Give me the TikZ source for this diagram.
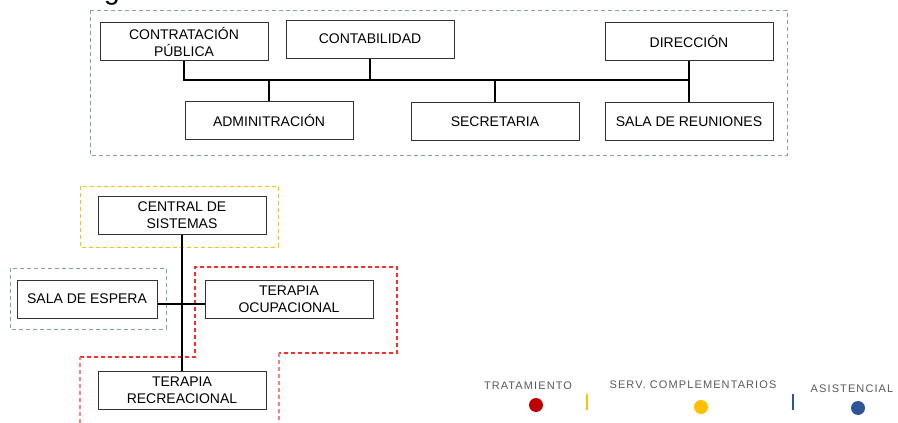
\documentclass[tikz,border=0pt]{standalone}
\usepackage{fontspec}
\setmainfont{Liberation Sans}
\newfontfamily\legfont[LetterSpace=10]{Liberation Sans}
\definecolor{zoneblue}{HTML}{7F9FC4}
\definecolor{zoneyellow}{HTML}{FFC000}
\definecolor{zonered}{HTML}{FF2A2A}
\definecolor{zonepink}{HTML}{FF7F7F}
\definecolor{dotred}{HTML}{C00000}
\definecolor{dotyellow}{HTML}{FFC000}
\definecolor{dotblue}{HTML}{2F5597}
\definecolor{legtext}{HTML}{595959}
\tikzset{
  room/.style={draw=black!80, line width=1pt, fill=white, minimum width=168pt, minimum height=38pt,
    align=center, inner sep=1pt, font=\fontsize{14}{17}\selectfont},
  conn/.style={draw=black, line width=2.6pt},
  zone/.style={line width=1pt, dash pattern=on 4pt off 3pt},
  redzone/.style={line width=1.3pt, dash pattern=on 4pt off 3pt},
  legtxt/.style={text=legtext, font=\legfont\fontsize{11}{13}\selectfont, inner sep=0pt},
  legdot/.style={circle, inner sep=0pt, minimum size=14pt},
  legtick/.style={line width=1.2pt}
}
\begin{document}
\begin{tikzpicture}[x=1pt, y=-1pt]
\useasboundingbox (0,0) rectangle (898,423);
% cut-off title glyph
\node[anchor=base, inner sep=0pt, font=\fontsize{28}{30}\selectfont] (ttl) at (112,-0.5) {g};
% upper zone
\draw[zone, draw=zoneblue] (90,10) rectangle (787,155);
\node[room] (cp) at (184,41.5) {CONTRATACIÓN\\PÚBLICA};
\node[room] (cont) at (370,39) {CONTABILIDAD};
\node[room] (dir) at (689,41.5) {DIRECCIÓN};
\node[room] (adm) at (269,120.5) {ADMINITRACIÓN};
\node[room] (sec) at (495,121.5) {SECRETARIA};
\node[room] (sal) at (689,121.5) {SALA DE REUNIONES};
\coordinate (bus) at (0,80);
\draw[conn] (cp.south) |- (dir.south |- bus);
\draw[conn] (cont.south) -- (cont.south |- bus);
\draw[conn] (dir.south) -- (sal.north);
\draw[conn] (adm.north) -- (adm.north |- bus);
\draw[conn] (sec.north) -- (sec.north |- bus);
% lower zones
\draw[zone, draw=zoneyellow] (80,186) rectangle (278,247);
\draw[zone, draw=zoneblue] (10,268) rectangle (166,329);
\draw[redzone, draw=zonered] (80,357) -- (195,357) -- (195,267) -- (397,267) -- (397,353) -- (279,353);
\draw[redzone, draw=zonepink] (80,423) -- (80,357);
\draw[redzone, draw=zonepink] (279,353) -- (279,423);
\node[room] (cs) at (182,215.5) {CENTRAL DE\\SISTEMAS};
\node[room, minimum width=140pt] (se) at (87,299) {SALA DE ESPERA};
\node[room] (to) at (289,299) {TERAPIA\\OCUPACIONAL};
\node[room] (tr) at (182,390.5) {TERAPIA\\RECREACIONAL};
\coordinate (hz) at (0,304);
\draw[conn] (cs.south) -- (tr.north);
\draw[conn] (se.east |- hz) -- (to.west |- hz);
% legend
\node[legtxt] (l1) at (528,386) {TRATAMIENTO};
\node[legdot, fill=dotred] (d1) at (536,405) {};
\node[legtxt] (l2) at (693,385) {SERV. COMPLEMENTARIOS};
\node[legdot, fill=dotyellow] (d2) at (701,407) {};
\node[legtxt] (l3) at (852,389) {ASISTENCIAL};
\node[legdot, fill=dotblue] (d3) at (858,408) {};
\coordinate (t1a) at (587,394); \coordinate (t1b) at (587,410);
\coordinate (t2a) at (793,394); \coordinate (t2b) at (793,410);
\draw[legtick, dotyellow] (t1a) -- (t1b);
\draw[legtick, dotblue] (t2a) -- (t2b);
\end{tikzpicture}
\end{document}
